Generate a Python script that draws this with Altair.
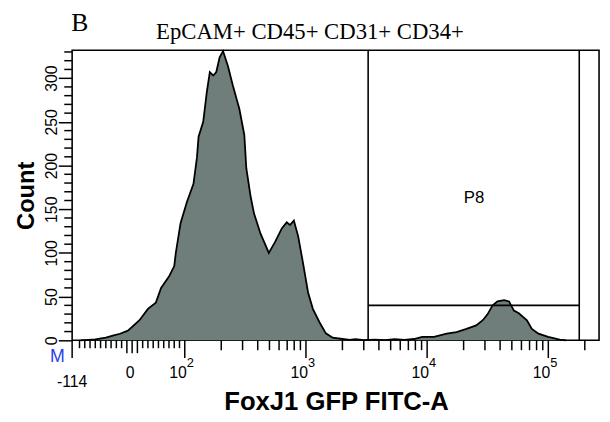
import math
import altair as alt
import pandas as pd

# ---------------- data ----------------
# histogram outline: FITC-A value (FoxJ1 GFP) and event count
fitc = [-98, -83, -70, -50, -35, -23, -8, 14, 30, 45, 55, 70, 80, 83, 92, 104,
        118, 126, 130, 142, 152, 161, 172, 182, 194, 207, 227, 249, 282, 310,
        322, 350, 373, 422, 494, 558, 632, 694, 738, 795, 863, 947, 1040, 1140,
        1290, 1460, 1660, 2000, 2300, 2560, 3000, 3700, 4500, 5400, 6500, 7800,
        9100, 11400, 14500, 17500, 21100, 25400, 28800, 31600, 34700, 38100,
        43200, 47400, 52000, 57100, 66600, 73100, 82900, 99800, 124000, 140000]
counts = [0, 0.5, 1, 3, 5.6, 7.5, 11, 23, 36, 43, 60, 73, 85, 100, 134, 158,
          179, 209, 233, 250, 284, 307, 303, 307, 324, 331, 314, 292, 265, 235,
          197, 164, 145, 122, 100, 113, 128, 135, 132, 137, 119, 88, 55, 36,
          21, 8, 3, 1.5, 0.5, 1.2, 0.3, 0.8, 0.3, 1.2, 0.5, 1.5,
          4, 4, 7.6, 9.5, 13, 17, 23, 30, 40, 44.5,
          46, 44.5, 34, 31, 23, 13, 7.6, 4, 0.8, 0]

# P8 gate
gate_lo = [3260]
gate_hi = [180000]
gate_level = [40]
gate_name = ["P8"]
gate_label_at = [24400]
gate_label_count = [163]

# axis extents and ticks
x_min, x_max = -114, 262143
y_max = 332
y_major = [0, 50, 100, 150, 200, 250, 300]
y_minor = [c for c in range(10, 331, 10) if c % 50 != 0]
x_ticks_small = [-100, -90, -80, -70, -60, -50, -40, -30, -20, 20, 30, 40, 50, 60, 70, 80, 90]
x_ticks_mid = [-10, 0, 10]
x_ticks_log = [200, 300, 400, 500, 600, 700, 800, 900,
               2000, 3000, 4000, 5000, 6000, 7000, 8000, 9000,
               20000, 30000, 40000, 50000, 60000, 70000, 80000, 90000, 200000]
x_ticks_decade = [-114, 100, 1000, 10000, 100000]
decade_values = [100, 1000, 10000, 100000]
decade_base = ["10", "10", "10", "10"]
decade_exp = ["2", "3", "4", "5"]
zero_label = ["0"]
min_label = ["-114"]

# ---------------- display transform (linear below 100, log above) ----------------
EXPR = "datum.v >= 100 ? log(datum.v) / LN10 : 2 + (datum.v - 100) / (100 * LN10)"


def disp(v):
    return math.log10(v) if v >= 100 else 2 + (v - 100) / (100 * math.log(10))


xscale = alt.Scale(domain=[disp(x_min), disp(x_max)], nice=False, zero=False)
yscale = alt.Scale(domain=[0, y_max], nice=False)
SANS = "Liberation Sans"
SERIF = "Liberation Serif"

yaxis = alt.Axis(values=y_major, title="Count", labelAngle=270, labelAlign="center",
                 labelBaseline="alphabetic", labelPadding=2, labelFont=SANS,
                 labelFontSize=16, labelColor="black", tickSize=14, tickWidth=1.5,
                 tickColor="black", domain=False, grid=False,
                 titleFont=SANS, titleFontSize=24, titleFontWeight="bold",
                 titleColor="black", titleAngle=270, titleAlign="center",
                 titleBaseline="alphabetic", titleX=-39, titleY=147)


def X(field="pos"):
    return alt.X(f"{field}:Q", scale=xscale, axis=None)


def Y(field="count"):
    return alt.Y(f"{field}:Q", scale=yscale, axis=yaxis)


def vdf(values):
    return pd.DataFrame({"v": values})


hist = pd.DataFrame({"v": fitc, "count": counts})

area = alt.Chart(hist).transform_calculate(pos=EXPR).mark_area(
    color="#6f7e7b", opacity=1,
    line={"color": "black", "strokeWidth": 1.8}).encode(x=X(), y=Y())

gates_v = alt.Chart(vdf(gate_lo + gate_hi)).transform_calculate(pos=EXPR).mark_rule(
    color="black", strokeWidth=1.6).encode(x=X())

gate_df = pd.DataFrame({"v": gate_lo, "v2": gate_hi, "count": gate_level})
gate_h = alt.Chart(gate_df).transform_calculate(
    pos=EXPR, pos2=EXPR.replace("datum.v", "datum.v2")).mark_rule(
    color="black", strokeWidth=1.6).encode(x=X(), x2="pos2:Q", y=Y())

p8 = alt.Chart(pd.DataFrame({"v": gate_label_at, "count": gate_label_count, "t": gate_name})
               ).transform_calculate(pos=EXPR).mark_text(
    font=SANS, fontSize=17, color="black").encode(x=X(), y=Y(), text="t:N")

y_minor_ticks = alt.Chart(pd.DataFrame({"count": y_minor})).mark_rule(
    color="black", strokeWidth=1.5).encode(y=Y(), x=alt.value(-8), x2=alt.value(0))


def xticks(values, length):
    return alt.Chart(vdf(values)).transform_calculate(pos=EXPR).mark_rule(
        color="black", strokeWidth=1.5).encode(
        x=X(), y=alt.value(294), y2=alt.value(294 + length))


tick_layers = [xticks(x_ticks_small, 8), xticks(x_ticks_mid, 13),
               xticks(x_ticks_log, 10), xticks(x_ticks_decade, 18)]

dec_df = pd.DataFrame({"v": decade_values, "b": decade_base, "e": decade_exp})
dec_base = alt.Chart(dec_df).transform_calculate(pos=EXPR).mark_text(
    font=SANS, fontSize=16, align="right", baseline="alphabetic", dx=2,
    color="black").encode(x=X(), y=alt.value(332), text="b:N")
dec_exp = alt.Chart(dec_df).transform_calculate(pos=EXPR).mark_text(
    font=SANS, fontSize=13, align="left", baseline="alphabetic", dx=2,
    color="black").encode(x=X(), y=alt.value(321), text="e:N")
zero_txt = alt.Chart(pd.DataFrame({"v": [0], "t": zero_label})).transform_calculate(
    pos=EXPR).mark_text(font=SANS, fontSize=16, baseline="alphabetic", dx=-2,
                        color="black").encode(x=X(), y=alt.value(332), text="t:N")
min_txt = alt.Chart(pd.DataFrame({"v": [x_min], "t": min_label})).transform_calculate(
    pos=EXPR).mark_text(font=SANS, fontSize=16, baseline="alphabetic",
                        color="black").encode(x=X(), y=alt.value(341), text="t:N")


def fixed_text(text, x, y, **kw):
    return alt.Chart(pd.DataFrame({"t": [text]})).mark_text(
        baseline="alphabetic", **kw).encode(text="t:N", x=alt.value(x), y=alt.value(y))


m_txt = fixed_text("M", -15, 316, font=SANS, fontSize=18, color="#2a3df0")
panel = fixed_text("B", -1, -19, font=SERIF, fontSize=26, align="left", color="black")
title = fixed_text("EpCAM+ CD45+ CD31+ CD34+", 241, -11, font=SERIF, fontSize=23,
                   align="center", color="black")
xtitle = fixed_text("FoxJ1 GFP FITC-A", 268, 365, font=SANS, fontSize=26,
                    fontWeight="bold", align="center", color="black")

chart = alt.layer(
    area, gates_v, gate_h, p8, y_minor_ticks, *tick_layers,
    dec_base, dec_exp, zero_txt, min_txt, m_txt, panel, title, xtitle
).properties(
    width=534, height=294,
    autosize=alt.AutoSizeParams(type="none"),
    padding={"left": 65, "top": 40, "right": 3, "bottom": 80},
    background="white",
).configure_view(stroke="black", strokeWidth=1.6)

chart.save("out.html", embed_options={"renderer": "svg", "actions": False})
